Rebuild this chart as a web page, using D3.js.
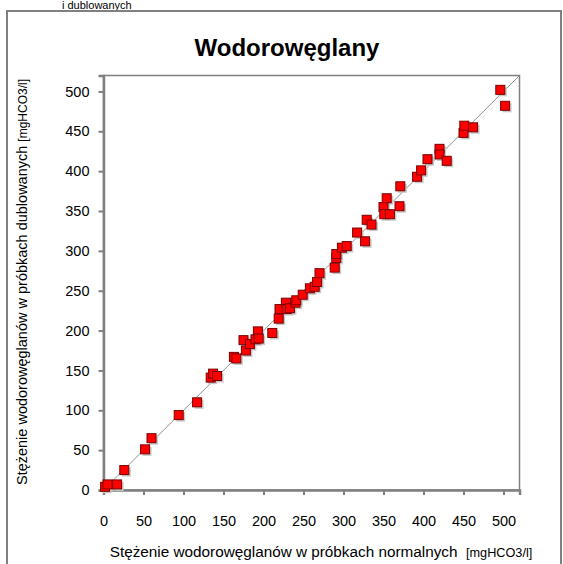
<!DOCTYPE html>
<html>
<head>
<meta charset="utf-8">
<script src="https://cdn.jsdelivr.net/npm/d3@7"></script>
<style>
  html, body { margin: 0; padding: 0; background: #fff; }
  svg { display: block; font-family: "Liberation Sans", Arial, sans-serif; }
</style>
</head>
<body>
<svg id="chart" width="563" height="564"></svg>
<script>
// Bicarbonate concentration: normal samples vs duplicate samples [mgHCO3/l]
const normalSamples = [2, 5, 17, 26, 52, 60, 94, 117, 134, 137, 142, 163, 166, 175, 178, 183, 190, 193, 194, 211,
  219, 220, 228, 229, 233, 240, 241, 249, 258, 264, 267, 270, 289, 291, 291, 298, 304, 317, 327, 329,
  335, 350, 351, 354, 358, 370, 371, 392, 397, 405, 420, 420, 429, 450, 451, 462, 496, 502];
const duplicateSamples = [4, 7, 7, 25, 51, 65, 94, 110, 141, 146, 143, 167, 165, 188, 175, 183, 189, 199, 190, 197,
  215, 227, 235, 227, 228, 235, 238, 245, 253, 255, 261, 272, 279, 291, 296, 304, 306, 323, 312, 339,
  333, 355, 346, 366, 346, 356, 381, 393, 401, 415, 428, 421, 413, 448, 457, 455, 502, 482];
const tickValues = [0, 50, 100, 150, 200, 250, 300, 350, 400, 450, 500];
const axisMax = 520;

const titleText = "Wodorowęglany";
const yTitleMain = "Stężenie wodorowęglanów w próbkach dublowanych ";
const xTitleMain = "Stężenie wodorowęglanów w próbkach normalnych  ";
const unitText = "[mgHCO3/l]";
const headerText = "i dublowanych";

const svg = d3.select("#chart");
const grey = "#808080";

const plot = { left: 103.5, top: 75.5, right: 519.5, bottom: 490 };
const x = d3.scaleLinear().domain([0, axisMax]).range([plot.left, plot.right]);
const y = d3.scaleLinear().domain([0, axisMax]).range([plot.bottom, plot.top]);

// caption line above the frame
svg.append("text").attr("x", 62).attr("y", 9)
  .attr("font-size", 11).attr("fill", "#000").text(headerText);

// outer chart frame
svg.append("rect").attr("x", 7).attr("y", 11).attr("width", 554).attr("height", 560)
  .attr("fill", "none").attr("stroke", grey).attr("stroke-width", 2);

// title
svg.append("text").attr("x", 287).attr("y", 56).attr("text-anchor", "middle")
  .attr("font-size", 24).attr("font-weight", "bold").text(titleText);

// plot area border
svg.append("rect").attr("x", plot.left).attr("y", plot.top)
  .attr("width", plot.right - plot.left).attr("height", plot.bottom - plot.top)
  .attr("fill", "#fff").attr("stroke", grey).attr("stroke-width", 1.5);

// axes
const xAxis = d3.axisBottom(x).tickValues(tickValues).tickSize(5).tickPadding(21);
const yAxis = d3.axisLeft(y).tickValues(tickValues).tickSize(5).tickPadding(9);

const gx = svg.append("g").attr("transform", `translate(0,${plot.bottom})`).call(xAxis);
const gy = svg.append("g").attr("transform", `translate(${plot.left},0)`).call(yAxis);
[gx, gy].forEach(g => {
  g.select(".domain").attr("stroke", grey).attr("stroke-width", 2.5);
  g.selectAll(".tick line").attr("stroke", grey).attr("stroke-width", 2);
  g.selectAll(".tick text").attr("font-size", 14.5).attr("fill", "#000")
    .attr("font-family", "Liberation Sans, Arial, sans-serif");
});

// 1:1 reference line
svg.append("line")
  .attr("x1", x(0)).attr("y1", y(0)).attr("x2", x(axisMax)).attr("y2", y(axisMax))
  .attr("stroke", "#909090").attr("stroke-width", 1);

// points
const pts = normalSamples.map((v, i) => ({ n: v, d: duplicateSamples[i] }));
const size = 9;
svg.append("g").selectAll("rect.shadow").data(pts).join("rect")
  .attr("x", p => x(p.n) - size / 2 + 2).attr("y", p => y(p.d) - size / 2 + 2)
  .attr("width", size).attr("height", size).attr("fill", "#c8c8c8");
svg.append("g").selectAll("rect.pt").data(pts).join("rect")
  .attr("x", p => x(p.n) - size / 2).attr("y", p => y(p.d) - size / 2)
  .attr("width", size).attr("height", size)
  .attr("fill", "#ff0000").attr("stroke", "#7a0000").attr("stroke-width", 1);

// axis titles
const xt = svg.append("text").attr("x", 321).attr("y", 557).attr("text-anchor", "middle")
  .attr("font-size", 15.3).attr("xml:space", "preserve");
xt.append("tspan").text(xTitleMain);
xt.append("tspan").attr("font-size", 12.7).text(unitText);

const yt = svg.append("text")
  .attr("transform", `translate(27,282) rotate(-90)`)
  .attr("text-anchor", "middle").attr("font-size", 14.5).attr("xml:space", "preserve");
yt.append("tspan").text(yTitleMain);
yt.append("tspan").attr("font-size", 12).text(unitText);
</script>
</body>
</html>
